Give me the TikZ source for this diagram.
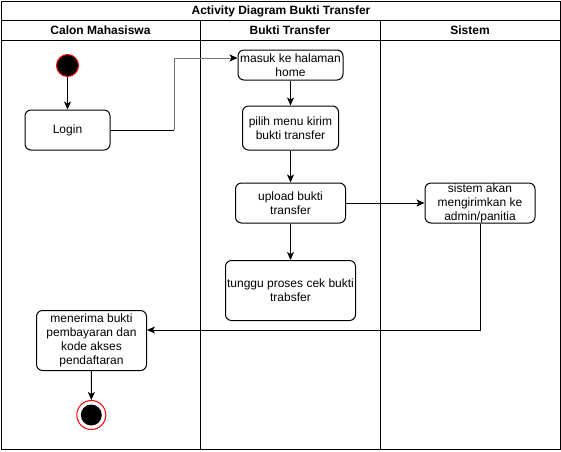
\documentclass[tikz,border=0pt]{standalone}
\usepackage{fontspec}
\setmainfont{Liberation Sans}
\usetikzlibrary{arrows.meta}
\begin{document}
\begin{tikzpicture}[x=1pt,y=-1pt,
  lane/.style={draw=black,line width=1pt},
  act/.style={draw=black,line width=1pt,rounded corners=6pt,fill=white,align=center,
    inner sep=0pt,font=\fontsize{12}{14}\selectfont},
  flow/.style={draw=black,line width=1pt,-{Stealth[length=8pt,width=7pt,inset=2pt,color=black]}},
  hdr/.style={font=\fontsize{12}{14}\selectfont\bfseries}
]
\useasboundingbox (0,0) rectangle (561,451);
% frame
\draw[lane] (1,1) rectangle (560,449.5);
\draw[lane] (1,20) -- (560,20);
\draw[lane] (1,40) -- (560,40);
\draw[lane] (200,20) -- (200,449.5);
\draw[lane] (380.5,20) -- (380.5,449.5);
\node[hdr] (title) at (281,11) {Activity Diagram Bukti Transfer};
\node[hdr] (h1) at (100.5,30.5) {Calon Mahasiswa};
\node[hdr] (h2) at (290,30.5) {Bukti Transfer};
\node[hdr] (h3) at (470,30.5) {Sistem};
% nodes
\node[circle,draw=red,fill=black,line width=1pt,minimum size=22pt,inner sep=0pt] (start) at (67.5,65.5) {};
\node[act,minimum width=85pt,minimum height=40pt] (login) at (67.5,130) {Login};
\node[act,minimum width=105pt,minimum height=30pt] (masuk) at (290.5,65) {masuk ke halaman\\home};
\node[act,minimum width=96pt,minimum height=44pt] (pilih) at (290.5,128) {pilih menu kirim\\bukti transfer};
\node[act,minimum width=110pt,minimum height=40pt] (upload) at (290.5,203) {upload bukti\\transfer};
\node[act,minimum width=110pt,minimum height=40pt] (sistem) at (480,203) {sistem akan\\mengirimkan ke\\admin/panitia};
\node[act,minimum width=130pt,minimum height=60pt] (tunggu) at (290.5,290.5) {tunggu proses cek bukti\\trabsfer};
\node[act,minimum width=110pt,minimum height=60pt] (terima) at (91.5,340.5) {menerima bukti\\pembayaran dan\\kode akses\\pendaftaran};
\node[circle,draw=red,fill=white,line width=1pt,minimum size=29pt,inner sep=0pt] (end) at (91.3,415) {};
\node[circle,fill=black,minimum size=21pt,inner sep=0pt] (endin) at (end.center) {};
% connectors
\coordinate (mIn) at (masuk.west |- 0,58);
\coordinate (b1) at (174,130);
\coordinate (b2) at (174,58);
\draw[flow] (start) -- (login);
\draw[flow,draw=black!55] (b1) -- (b2) -- (mIn);
\draw[lane] (login.east) -- (b1);
\draw[flow] (masuk) -- (pilih);
\draw[flow] (pilih) -- (upload);
\draw[flow] (upload) -- (sistem);
\draw[flow] (upload) -- (tunggu);
\draw[flow] (sistem.south) -- (480,330) -- (terima.east |- 0,330);
\draw[flow] (terima) -- (end);
\end{tikzpicture}
\end{document}
